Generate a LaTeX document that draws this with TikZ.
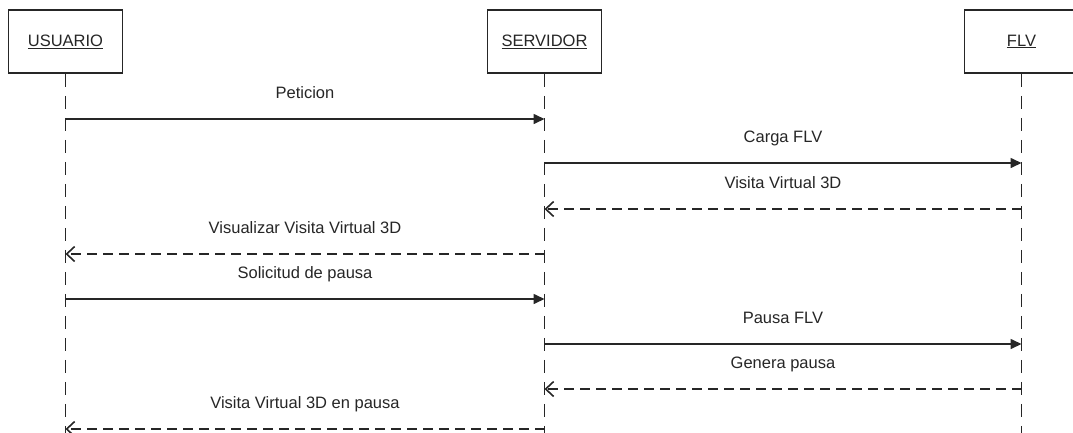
\documentclass[tikz,border=0pt]{standalone}
\usepackage{fontspec}
\setmainfont{Liberation Sans}
\usetikzlibrary{arrows.meta}

\begin{document}
\begin{tikzpicture}[x=1pt,y=-1pt,
  actor/.style={draw=black!85,fill=white,line width=1.6pt,minimum width=114pt,
                minimum height=63pt,inner sep=0pt,text=black!85,
                font=\fontsize{16.5}{19}\selectfont},
  life/.style={draw=black!85,line width=1.6pt,dash pattern=on 13pt off 9pt},
  call/.style={draw=black!85,line width=1.6pt,-{Triangle[length=11pt,width=10pt]}},
  reply/.style={draw=black!85,line width=1.6pt,dash pattern=on 10pt off 6pt,
                -{Straight Barb[length=8pt,width=15pt]}},
  msg/.style={midway,anchor=base,yshift=21pt,text=black!85,
              font=\fontsize{16.5}{19}\selectfont}]

\useasboundingbox (0,0) rectangle (1073,432);

\node[actor] (usuario)  at (65.5,41.5)  {\underline{USUARIO}};
\node[actor] (servidor) at (544.5,41.5) {\underline{SERVIDOR}};
\node[actor] (flv)      at (1021.5,41.5) {\underline{FLV}};

\coordinate (uend) at (65.5,440);
\coordinate (send) at (544.5,440);
\coordinate (fend) at (1021.5,440);

\draw[life] (usuario) -- (uend);
\draw[life] (servidor) -- (send);
\draw[life] (flv) -- (fend);

% message heights on the lifelines
\coordinate (u1) at (65.5,119);   \coordinate (s1) at (544.5,119);
\coordinate (s2) at (544.5,163);  \coordinate (f2) at (1021.5,163);
\coordinate (f3) at (1021.5,209); \coordinate (s3) at (544.5,209);
\coordinate (s4) at (544.5,254);  \coordinate (u4) at (65.5,254);
\coordinate (u5) at (65.5,299);   \coordinate (s5) at (544.5,299);
\coordinate (s6) at (544.5,344);  \coordinate (f6) at (1021.5,344);
\coordinate (f7) at (1021.5,389); \coordinate (s7) at (544.5,389);
\coordinate (s8) at (544.5,429);  \coordinate (u8) at (65.5,429);

\draw[call]  (u1) -- node[msg]{Peticion} (s1);
\draw[call]  (s2) -- node[msg]{Carga FLV} (f2);
\draw[reply] (f3) -- node[msg]{Visita Virtual 3D} (s3);
\draw[reply] (s4) -- node[msg]{Visualizar Visita Virtual 3D} (u4);
\draw[call]  (u5) -- node[msg]{Solicitud de pausa} (s5);
\draw[call]  (s6) -- node[msg]{Pausa FLV} (f6);
\draw[reply] (f7) -- node[msg]{Genera pausa} (s7);
\draw[reply] (s8) -- node[msg]{Visita Virtual 3D en pausa} (u8);
\end{tikzpicture}
\end{document}
